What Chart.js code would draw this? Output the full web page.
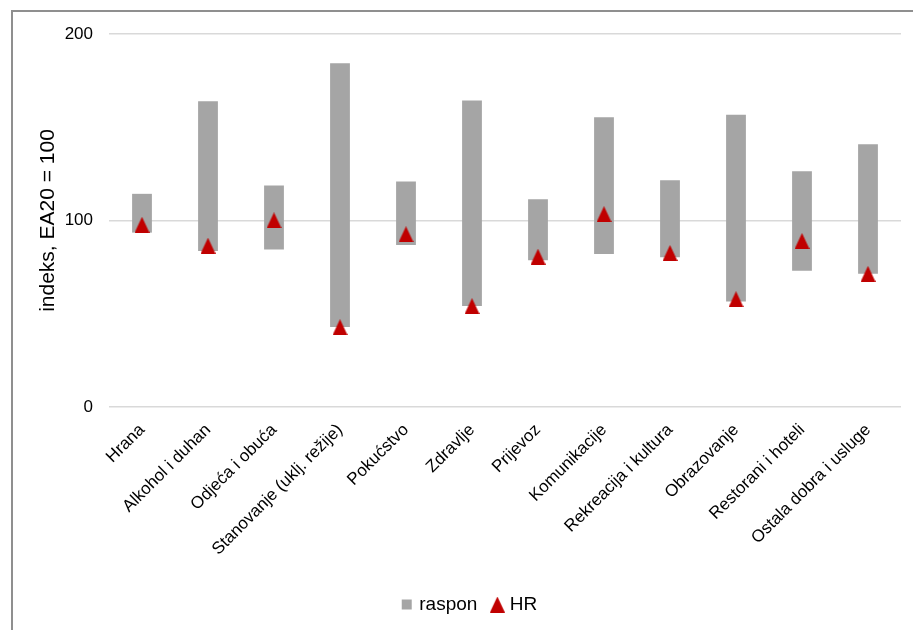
<!DOCTYPE html>
<html>
<head>
<meta charset="utf-8">
<script src="https://cdn.jsdelivr.net/npm/chart.js@4/dist/chart.umd.min.js"></script>
<style>
  html, body { margin: 0; padding: 0; background: #fff; }
  #wrap { position: relative; width: 913px; height: 630px; overflow: hidden; }
  #frame { position: absolute; left: 11px; top: 10px; width: 920px; height: 640px;
           border-left: 2px solid #8f8f8f; border-top: 2px solid #8f8f8f; }
  #c { position: absolute; left: 0; top: 0; }
</style>
</head>
<body>
<div id="wrap">
  <div id="frame"></div>
  <canvas id="c" width="913" height="630"></canvas>
</div>
<script>
// ---- data ----
const categories = ["Hrana", "Alkohol i duhan", "Odjeća i obuća", "Stanovanje (uklj. režije)", "Pokućstvo", "Zdravlje", "Prijevoz", "Komunikacije", "Rekreacija i kultura", "Obrazovanje", "Restorani i hoteli", "Ostala dobra i usluge"];
const rangeLow  = [93.5, 83.7, 84.4, 42.9, 86.9, 54.1, 78.7, 82.0, 80.3, 56.6, 73.1, 71.5];
const rangeHigh = [114.3, 163.9, 118.8, 184.3, 120.9, 164.4, 111.4, 155.3, 121.6, 156.7, 126.4, 140.9];
const hrValues  = [97.7, 86.5, 100.1, 42.8, 92.6, 54.1, 80.6, 103.4, 82.6, 57.8, 89.0, 71.4];
const yTicks = [0, 100, 200];
const seriesNames = ["raspon", "HR"];

// triangle marker image
function triangleImage(w, h, color) {
  const cv = document.createElement('canvas');
  cv.width = w; cv.height = h;
  const g = cv.getContext('2d');
  g.fillStyle = color;
  g.beginPath();
  g.moveTo(w / 2, 0);
  g.lineTo(w, h);
  g.lineTo(0, h);
  g.closePath();
  g.fill();
  return cv;
}
const tri = triangleImage(15, 16, '#c00000');

const FONT = "'Liberation Sans', Arial, sans-serif";

new Chart(document.getElementById('c'), {
  data: {
    labels: categories,
    datasets: [
      {
        type: 'bar',
        label: seriesNames[0],
        data: rangeLow.map((lo, i) => [lo, rangeHigh[i]]),
        backgroundColor: '#a5a5a5',
        borderWidth: 0,
        barPercentage: 0.3,
        categoryPercentage: 1.0,
        pointStyle: 'rect',
        order: 2
      },
      {
        type: 'line',
        label: seriesNames[1],
        data: hrValues,
        showLine: false,
        pointStyle: tri,
        backgroundColor: '#c00000',
        borderColor: '#c00000',
        order: 1
      }
    ]
  },
  options: {
    responsive: false,
    animation: false,
    layout: { padding: { left: 40, top: 34, right: 12, bottom: 6 } },
    plugins: {
      tooltip: { enabled: false },
      legend: {
        position: 'bottom',
        labels: {
          usePointStyle: true,
          boxHeight: 10,
          boxWidth: 6,
          padding: 17,
          color: '#000',
          font: { family: FONT, size: 19 },
          sort: (a, b) => a.datasetIndex - b.datasetIndex
        }
      }
    },
    scales: {
      x: {
        afterFit: (s) => { s.height = 171; },
        grid: { display: false, drawTicks: false },
        border: { display: false },
        ticks: {
          color: '#000',
          font: { family: FONT, size: 17 },
          maxRotation: 45, minRotation: 45,
          padding: 13
        }
      },
      y: {
        min: 0, max: 200,
        afterFit: (s) => { s.width = 69; },
        afterBuildTicks: (s) => { s.ticks = yTicks.map(v => ({ value: v })); },
        grid: { color: '#d9d9d9', lineWidth: 1.5, drawTicks: false },
        border: { display: false },
        ticks: {
          color: '#000',
          font: { family: FONT, size: 17 },
          padding: 16
        },
        title: {
          display: true,
          text: 'indeks, EA20 = 100',
          color: '#000',
          font: { family: FONT, size: 21 },
          padding: { top: -4, bottom: 0 }
        }
      }
    }
  }
});
</script>
</body>
</html>
